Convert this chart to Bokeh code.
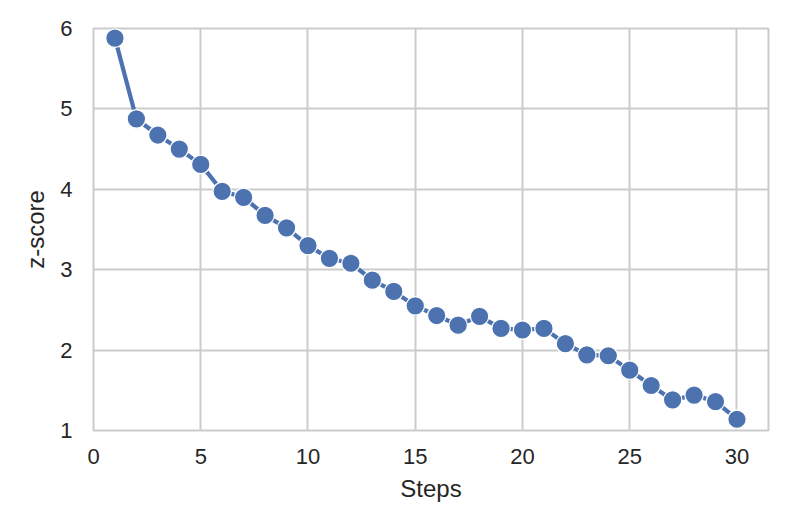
from bokeh.plotting import figure
from bokeh.models import Range1d, FixedTicker
from bokeh.embed import file_html
from bokeh.resources import INLINE

steps = list(range(1, 31))
zscore = [5.88, 4.875, 4.675, 4.50, 4.31, 3.975, 3.90, 3.675, 3.52, 3.30,
          3.14, 3.08, 2.87, 2.73, 2.55, 2.43, 2.31, 2.42, 2.27, 2.25,
          2.27, 2.08, 1.94, 1.93, 1.75, 1.56, 1.38, 1.44, 1.36, 1.14]
x_ticks = [0, 5, 10, 15, 20, 25, 30]
y_ticks = [1, 2, 3, 4, 5, 6]

FONT = "Liberation Sans"
TXT = "#262626"
GRID = "#cccccc"
BLUE = "#4c72b0"

p = figure(width=781, height=516, output_backend="svg", toolbar_location=None,
           x_range=Range1d(0, 31.47), y_range=Range1d(1, 6),
           min_border_left=93, min_border_right=13, min_border_top=28, min_border_bottom=86)

p.line(steps, zscore, line_color=BLUE, line_width=4.2)
p.scatter(steps, zscore, size=18.5, fill_color=BLUE, line_color="white", line_width=1.3)

p.outline_line_color = GRID
p.outline_line_width = 2
p.background_fill_color = "white"
p.border_fill_color = "white"

for ax in (p.xaxis, p.yaxis):
    ax.axis_line_color = None
    ax.major_tick_line_color = None
    ax.minor_tick_line_color = None
    ax.major_label_text_font = FONT
    ax.major_label_text_font_size = "22px"
    ax.major_label_text_color = TXT
    ax.axis_label_text_font = FONT
    ax.axis_label_text_font_size = "24px"
    ax.axis_label_text_font_style = "normal"
    ax.axis_label_text_color = TXT

p.xaxis.ticker = FixedTicker(ticks=x_ticks)
p.yaxis.ticker = FixedTicker(ticks=y_ticks)
p.xaxis.axis_label = "Steps"
p.yaxis.axis_label = "z-score"
p.xaxis.major_label_standoff = 12
p.yaxis.major_label_standoff = 15
p.xaxis.axis_label_standoff = 8
p.yaxis.axis_label_standoff = 8

p.xgrid.grid_line_color = GRID
p.ygrid.grid_line_color = GRID
p.xgrid.grid_line_width = 2
p.ygrid.grid_line_width = 2

open("out.html", "w").write(file_html(p, INLINE))
